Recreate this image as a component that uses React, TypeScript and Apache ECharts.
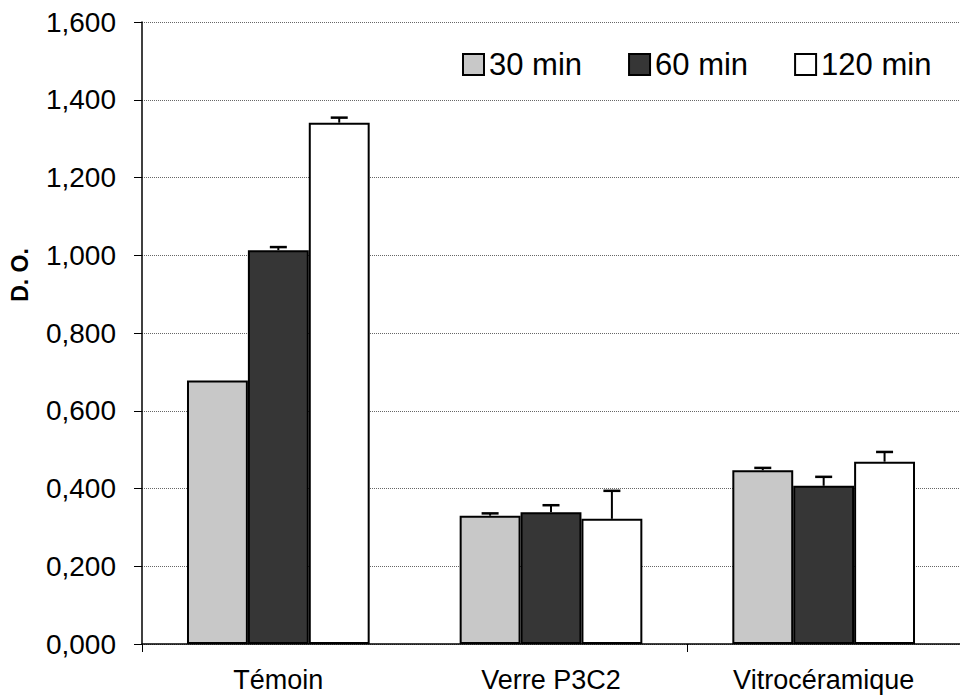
import React, { useEffect, useRef } from "react";
import * as echarts from "echarts";

const categories = ["Témoin", "Verre P3C2", "Vitrocéramique"];
const seriesNames = ["30 min", "60 min", "120 min"];
const values30 = [0.678, 0.330, 0.447];
const values60 = [1.013, 0.339, 0.407];
const values120 = [1.341, 0.322, 0.469];
const err30 = [0, 0.006, 0.006];
const err60 = [0.008, 0.018, 0.023];
const err120 = [0.013, 0.072, 0.025];
const yTicks = { min: 0, max: 1.6, interval: 0.2 };

const FONT = "'Liberation Sans', Arial, sans-serif";
const CAT_GAP = 0.33;

export default function App() {
  const ref = useRef<HTMLDivElement>(null);
  useEffect(() => {
    document.body.style.margin = "0";
    const chart = echarts.init(ref.current!, null, { renderer: "svg" });
    const fills = ["#c8c8c8", "#363636", "#ffffff"];
    const vals = [values30, values60, values120];
    const errs = [err30, err60, err120];

    const barSeries = vals.map((v, i) => ({
      type: "bar",
      name: seriesNames[i],
      data: v,
      barGap: "0%",
      barCategoryGap: CAT_GAP * 100 + "%",
      itemStyle: { color: fills[i], borderColor: "#000", borderWidth: 2 },
      z: 2,
    }));

    const errSeries = vals.map((v, i) => ({
      type: "custom",
      name: "err" + i,
      data: v.map((val, k) => [k, val, errs[i][k]]),
      z: 5,
      silent: true,
      renderItem: (params: any, api: any) => {
        const k = api.value(0);
        const val = api.value(1);
        const e = api.value(2);
        if (!e) return null;
        const band = api.size([1, 0])[0];
        const barW = (band * (1 - CAT_GAP)) / 3;
        const base = api.coord([k, val]);
        const top = api.coord([k, val + e]);
        const cx = base[0] + (i - 1) * barW;
        const half = 8.5;
        return {
          type: "group",
          children: [
            {
              type: "line",
              shape: { x1: cx, y1: base[1], x2: cx, y2: top[1] },
              style: { stroke: "#000", lineWidth: 2 },
            },
            {
              type: "line",
              shape: { x1: cx - half, y1: top[1], x2: cx + half, y2: top[1] },
              style: { stroke: "#000", lineWidth: 2.5 },
            },
          ],
        };
      },
    }));

    chart.setOption({
      animation: false,
      backgroundColor: "#ffffff",
      textStyle: { fontFamily: FONT },
      grid: { left: 142, top: 22, bottom: 53, width: 831, containLabel: false },
      legend: {
        data: seriesNames,
        left: 457,
        top: 44,
        icon: "rect",
        itemWidth: 21,
        itemHeight: 21,
        itemGap: 46,
        textStyle: { fontSize: 31, color: "#000", fontFamily: FONT },
      },
      xAxis: {
        type: "category",
        data: categories,
        axisLine: { lineStyle: { color: "#000", width: 1.5 } },
        axisTick: { show: true, interval: 1, length: 8, lineStyle: { color: "#000" } },
        axisLabel: { color: "#000", fontSize: 27, margin: 22, fontFamily: FONT, interval: 0 },
      },
      yAxis: {
        type: "value",
        min: yTicks.min,
        max: yTicks.max,
        interval: yTicks.interval,
        axisLine: { show: true, lineStyle: { color: "#000", width: 1.5 } },
        axisTick: { show: true, length: 8, lineStyle: { color: "#000" } },
        axisLabel: {
          color: "#000",
          fontSize: 28,
          margin: 26,
          fontFamily: FONT,
          formatter: (v: number) => v.toFixed(3).replace(".", ","),
        },
        splitLine: { show: true, lineStyle: { color: "#666", type: "dotted", width: 1 } },
      },
      graphic: [
        {
          type: "text",
          x: 20,
          y: 275,
          rotation: Math.PI / 2,
          style: {
            text: "D. O.",
            fontSize: 23,
            fontWeight: "bold",
            fontFamily: FONT,
            fill: "#000",
            textAlign: "center",
            textVerticalAlign: "middle",
          },
        },
      ],
      series: [...barSeries, ...errSeries],
    });
    return () => chart.dispose();
  }, []);
  return <div ref={ref} style={{ width: 960, height: 697 }} />;
}
